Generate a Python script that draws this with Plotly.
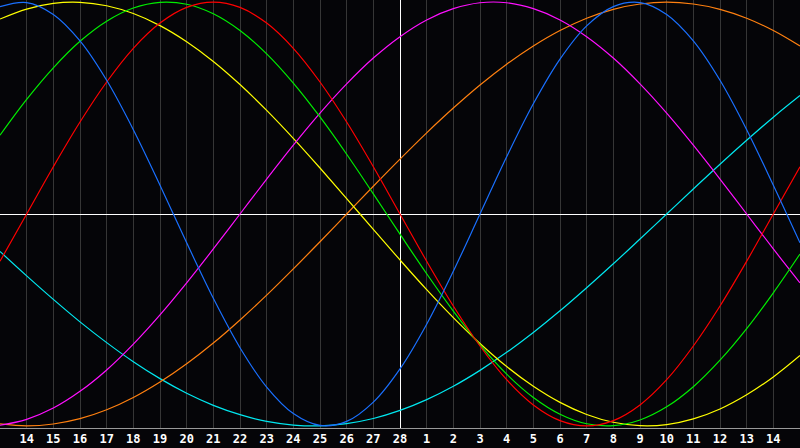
import plotly.graph_objects as go

# day offsets from today (-15 .. +15), today = 0
days = list(range(-15, 16))
tick_pos = list(range(-14, 15))
tick_text = ["14", "15", "16", "17", "18", "19", "20", "21", "22", "23", "24", "25", "26", "27", "28",
             "1", "2", "3", "4", "5", "6", "7", "8", "9", "10", "11", "12", "13", "14"]

# cycle values, one per day
physical = [0.979, 0.998, 0.942, 0.817, 0.631, 0.398, 0.136, -0.136, -0.398, -0.631, -0.817, -0.942, -0.998, -0.979,
            -0.888, -0.731, -0.520, -0.270, 0.000, 0.270, 0.520, 0.731, 0.888, 0.979, 0.998, 0.942, 0.817, 0.631,
            0.398, 0.136, -0.136]
emotional = [-0.223, 0.000, 0.223, 0.434, 0.623, 0.782, 0.901, 0.975, 1.000, 0.975, 0.901, 0.782, 0.623, 0.434,
             0.223, 0.000, -0.223, -0.434, -0.623, -0.782, -0.901, -0.975, -1.000, -0.975, -0.901, -0.782, -0.623,
             -0.434, -0.223, 0.000, 0.223]
intellectual = [0.372, 0.541, 0.690, 0.815, 0.910, 0.972, 0.999, 0.990, 0.945, 0.866, 0.756, 0.618, 0.458, 0.282,
                0.095, -0.095, -0.282, -0.458, -0.618, -0.756, -0.866, -0.945, -0.990, -0.999, -0.972, -0.910,
                -0.815, -0.690, -0.541, -0.372, -0.189]
intuitive = [-0.997, -0.969, -0.916, -0.837, -0.736, -0.614, -0.476, -0.325, -0.165, 0.000, 0.165, 0.325, 0.476,
             0.614, 0.736, 0.837, 0.916, 0.969, 0.997, 0.997, 0.969, 0.916, 0.837, 0.736, 0.614, 0.476, 0.325,
             0.165, 0.000, -0.165, -0.325]
aesthetic = [0.920, 0.967, 0.994, 0.999, 0.983, 0.946, 0.889, 0.813, 0.720, 0.611, 0.489, 0.357, 0.217, 0.073,
             -0.073, -0.217, -0.357, -0.489, -0.611, -0.720, -0.813, -0.889, -0.946, -0.983, -0.999, -0.994,
             -0.967, -0.920, -0.853, -0.769, -0.668]
awareness = [-0.991, -1.000, -0.991, -0.966, -0.924, -0.866, -0.793, -0.707, -0.609, -0.500, -0.383, -0.259,
             -0.131, 0.000, 0.131, 0.259, 0.383, 0.500, 0.609, 0.707, 0.793, 0.866, 0.924, 0.966, 0.991, 1.000,
             0.991, 0.966, 0.924, 0.866, 0.793]
spiritual = [-0.177, -0.292, -0.403, -0.509, -0.607, -0.697, -0.777, -0.846, -0.903, -0.947, -0.979, -0.996,
             -1.000, -0.989, -0.965, -0.927, -0.876, -0.813, -0.738, -0.653, -0.559, -0.457, -0.348, -0.235,
             -0.118, 0.000, 0.118, 0.235, 0.348, 0.457, 0.559]

series = [
    ("Spiritual", spiritual, "#00e8f0"),
    ("Awareness", awareness, "#ff8010"),
    ("Aesthetic", aesthetic, "#ffff00"),
    ("Intuitive", intuitive, "#ff10ff"),
    ("Intellectual", intellectual, "#00ee00"),
    ("Emotional", emotional, "#ff0000"),
    ("Physical", physical, "#1a70ff"),
]

fig = go.Figure()
for name, vals, col in series:
    fig.add_trace(go.Scatter(x=days, y=vals, mode="lines", name=name,
                             line=dict(color=col, width=1.2, shape="spline", smoothing=1.0)))

bg = "#050508"
fig.update_layout(
    width=800, height=448,
    margin=dict(l=0, r=0, t=0, b=20),
    paper_bgcolor=bg, plot_bgcolor=bg,
    showlegend=False,
)
fig.update_xaxes(
    range=[-15, 15], tickvals=tick_pos, ticktext=tick_text,
    showgrid=True, gridcolor="#363636", gridwidth=1,
    zeroline=True, zerolinecolor="#ffffff", zerolinewidth=1,
    showline=True, linecolor="#999999", linewidth=1, mirror=True,
    ticks="", tickfont=dict(family="DejaVu Sans Mono", size=12, color="#ffffff", weight="bold"),
)
fig.update_yaxes(
    range=[-1.01, 1.01], showgrid=False, showticklabels=False,
    zeroline=True, zerolinecolor="#ffffff", zerolinewidth=1,
    showline=True, linecolor="#999999", linewidth=1,
)

# page body has an 8px default margin; drop it so the chart fills the window
fig.write_html("out.html", config={"displayModeBar": False},
               post_script="document.body.style.margin='0';document.body.style.background='%s';" % bg)
